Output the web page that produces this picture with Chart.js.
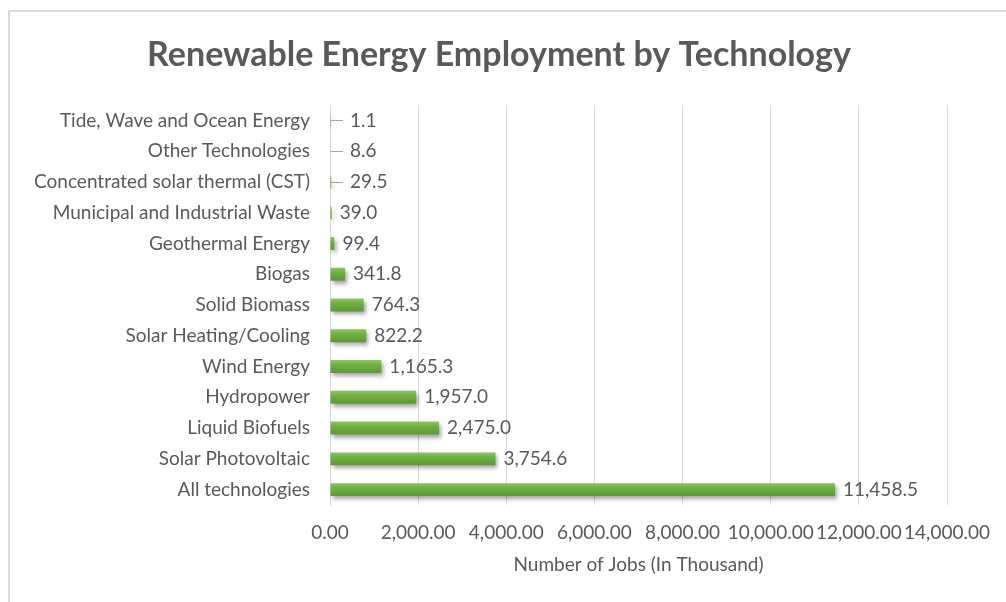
<!DOCTYPE html>
<html>
<head>
<meta charset="utf-8">
<script src="https://cdn.jsdelivr.net/npm/chart.js@4.4.0/dist/chart.umd.min.js"></script>
<style>
  html, body { margin: 0; padding: 0; background: #fff; }
  .wrap { position: relative; width: 1006px; height: 602px; overflow: hidden; }
  .frame {
    position: absolute; left: 8px; top: 10px; width: 1100px; height: 700px;
    border-left: 2px solid #d9d9d9; border-top: 2px solid #d9d9d9;
  }
  canvas { position: absolute; left: 0; top: 0; }
</style>
</head>
<body>
<div class="wrap">
  <div class="frame"></div>
  <canvas id="jobs" width="1006" height="602"></canvas>
</div>
<script>
const technologies = [
  'Tide, Wave and Ocean Energy',
  'Other Technologies',
  'Concentrated solar thermal (CST)',
  'Municipal and Industrial Waste',
  'Geothermal Energy',
  'Biogas',
  'Solid Biomass',
  'Solar Heating/Cooling',
  'Wind Energy',
  'Hydropower',
  'Liquid Biofuels',
  'Solar Photovoltaic',
  'All technologies'
];
const jobs = [1.1, 8.6, 29.5, 39.0, 99.4, 341.8, 764.3, 822.2, 1165.3, 1957.0, 2475.0, 3754.6, 11458.5];
// labels that sit off the bar with a small leader line
const leaderLabels = ['Tide, Wave and Ocean Energy', 'Other Technologies', 'Concentrated solar thermal (CST)'];
const xMax = 14000;
const xStep = 2000;
const chartTitle = 'Renewable Energy Employment by Technology';

const FONT = 'Lato, "Open Sans", sans-serif';
const GREY = '#595959';
const BAR_PCT = 0.42;

function barFill(ctx) {
  const chart = ctx.chart;
  const area = chart.chartArea;
  const y = chart.scales.y;
  if (!area || !y) return '#70ad47';
  const band = (area.bottom - area.top) / technologies.length;
  const half = band * BAR_PCT / 2;
  const cy = y.getPixelForValue(ctx.dataIndex);
  const g = chart.ctx.createLinearGradient(0, cy - half, 0, cy + half);
  g.addColorStop(0, '#8cc461');
  g.addColorStop(0.35, '#72b046');
  g.addColorStop(1, '#5c9834');
  return g;
}

// title centred on the whole frame rather than on the plot box
const frameTitle = {
  id: 'frameTitle',
  afterDraw(chart) {
    const c = chart.ctx;
    c.save();
    c.font = 'bold 34px ' + FONT;
    c.fillStyle = GREY;
    c.textAlign = 'center';
    c.textBaseline = 'middle';
    c.fillText(chartTitle, 499, 55);
    c.restore();
  }
};

const barShadow = {
  id: 'barShadow',
  beforeDatasetsDraw(chart) {
    const c = chart.ctx;
    c.save();
    c.shadowColor = 'rgba(0,0,0,0.35)';
    c.shadowBlur = 4;
    c.shadowOffsetX = 2;
    c.shadowOffsetY = 3;
  },
  afterDatasetsDraw(chart) {
    chart.ctx.restore();
  }
};

const valueLabels = {
  id: 'valueLabels',
  afterDatasetsDraw(chart) {
    const c = chart.ctx;
    const x = chart.scales.x;
    const bars = chart.getDatasetMeta(0).data;
    c.save();
    c.font = '19px ' + FONT;
    c.fillStyle = GREY;
    c.textBaseline = 'middle';
    c.textAlign = 'left';
    bars.forEach((bar, i) => {
      const txt = jobs[i].toLocaleString('en-US', { minimumFractionDigits: 1, maximumFractionDigits: 1 });
      const end = x.getPixelForValue(jobs[i]);
      let lx = end + 8;
      if (leaderLabels.includes(technologies[i])) {
        const base = x.getPixelForValue(0);
        c.strokeStyle = '#a6a6a6';
        c.lineWidth = 1;
        c.beginPath();
        c.moveTo(base, Math.round(bar.y) + 0.5);
        c.lineTo(base + 13, Math.round(bar.y) + 0.5);
        c.stroke();
        lx = base + 20;
      }
      c.fillText(txt, lx, bar.y);
    });
    c.restore();
  }
};

new Chart(document.getElementById('jobs'), {
  type: 'bar',
  data: {
    labels: technologies,
    datasets: [{
      data: jobs,
      backgroundColor: barFill,
      borderWidth: 0,
      barPercentage: BAR_PCT,
      categoryPercentage: 1
    }]
  },
  options: {
    indexAxis: 'y',
    responsive: false,
    animation: false,
    layout: { padding: { left: 0, right: 59, top: 105, bottom: 0 } },
    plugins: {
      legend: { display: false },
      tooltip: { enabled: false },
      title: { display: false }
    },
    scales: {
      x: {
        min: 0,
        max: xMax,
        ticks: {
          stepSize: xStep,
          color: GREY,
          font: { family: FONT, size: 19 },
          padding: 16,
          maxRotation: 0,
          autoSkip: false,
          callback: v => v.toLocaleString('en-US', { minimumFractionDigits: 2, maximumFractionDigits: 2 })
        },
        grid: { color: '#d9d9d9', lineWidth: 1, drawTicks: false },
        border: { display: false },
        title: {
          display: true,
          text: 'Number of Jobs (In Thousand)',
          color: GREY,
          font: { family: FONT, size: 19 },
          padding: { top: 0, bottom: 26 }
        },
        afterFit(scale) { scale.height = 97; }
      },
      y: {
        ticks: {
          color: GREY,
          font: { family: FONT, size: 19 },
          padding: 20,
          autoSkip: false
        },
        grid: { display: false, drawTicks: false },
        border: { display: true, color: '#d9d9d9', width: 1 },
        afterFit(scale) { scale.width = 330; }
      }
    }
  },
  plugins: [barShadow, valueLabels, frameTitle]
});
</script>
</body>
</html>
